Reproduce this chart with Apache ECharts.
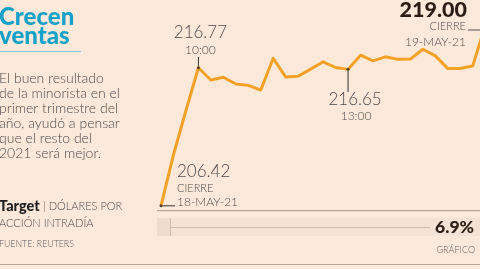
<!DOCTYPE html>
<html><head><meta charset="utf-8">
<script src="https://cdn.jsdelivr.net/npm/echarts@6/dist/echarts.min.js"></script>
<style>html,body{margin:0;padding:0;background:#fde9da;overflow:hidden}#c{width:480px;height:269px;}</style>
</head><body><div id="c"></div>
<script>
// Data
const times = ['18-MAY-21','9:30','9:45','10:00','10:15','10:30','10:45','11:00','11:15','11:30','11:45','12:00','12:15','12:30','12:45','13:00','13:15','13:30','13:45','14:00','14:15','14:30','14:45','15:00','15:15','15:30','15:45','16:00'];
const prices = [206.42,210.25,213.56,216.77,215.85,216.06,215.55,215.45,215.10,217.48,216.07,216.13,216.67,217.22,216.79,216.65,217.71,217.29,217.59,217.40,217.42,218.16,217.66,216.71,216.71,216.91,219.95,219.00];
const highlightIdx = [0, 3, 15];
const titleLines = ['Crecen', 'ventas'];
const bodyLines = ['El buen resultado', 'de la minorista en el', 'primer trimestre del', 'año, ayudó a pensar', 'que el resto del', '2021 será mejor.'];
const changeText = '6.9%';

const chart = echarts.init(document.getElementById('c'), null, {renderer: 'canvas'});
const FF = 'Lato, "Open Sans", sans-serif';
const gray = '#4a4a4a';
const dark = '#2b1d14';

function txt(text, x, y, font, fill, align, extra) {
  return Object.assign({type: 'text', silent: true, style: {text: text, x: x, y: y, font: font, fill: fill,
    align: align || 'left', textAlign: align || 'left', verticalAlign: 'middle', textVerticalAlign: 'middle'}}, extra || {});
}
function line(x1, y1, x2, y2, color, w) {
  return {type: 'line', silent: true, shape: {x1: x1, y1: y1, x2: x2, y2: y2}, style: {stroke: color, lineWidth: w || 1}};
}

const option = {
  backgroundColor: '#fde9da',
  animation: false,
  grid: {left: 161, top: 24.7, right: 0, height: 186.7},
  // visible window shows steps 0 .. ~25.6; the last steps run past the right edge
  xAxis: {type: 'value', min: 0, max: 25.58, show: false},
  yAxis: {type: 'value', min: 206, max: 220, show: false},
  series: [
    {type: 'line', data: prices.map((v, i) => [i, v]), symbol: 'none', clip: false,
     lineStyle: {color: '#f5a126', width: 3, join: 'round'}, z: 3},
    {type: 'scatter', data: highlightIdx.map(i => [i, prices[i]]), symbolSize: 3, clip: false,
     itemStyle: {color: '#2a2a2a'}, z: 5}
  ]
};
chart.setOption(option);

const p0 = chart.convertToPixel({gridIndex: 0}, [0, prices[0]]);
const p3 = chart.convertToPixel({gridIndex: 0}, [3, prices[3]]);
const p15 = chart.convertToPixel({gridIndex: 0}, [15, prices[15]]);

const g = [];
// title
g.push(txt(titleLines[0], -1, 17.5, '900 24px ' + FF, '#16a1c9'));
g.push(txt(titleLines[1], -1, 36, '900 24px ' + FF, '#16a1c9'));
g.push(line(0, 51.5, 81, 51.5, '#7ccbe0', 1));
bodyLines.forEach((t, i) => g.push(txt(t, -1, 78 + i * 15, '300 14px ' + FF, gray)));
g.push({type: 'text', silent: true, style: {text: '{b|Target} {g|| DÓLARES POR}', x: -1, y: 206.5,
  verticalAlign: 'middle', textVerticalAlign: 'middle',
  rich: {b: {font: '900 14.5px ' + FF, fill: '#1e1e1e', color: '#1e1e1e'}, g: {font: '300 11px ' + FF, fill: gray, color: gray}}}});
g.push(txt('ACCIÓN INTRADÍA', -1, 223, '300 11px ' + FF, gray));
g.push(txt('FUENTE: REUTERS', -1, 244, '300 8.8px ' + FF, '#5a5a5a'));
g.push(line(0, 264.5, 480, 264.5, '#b9a696', 1));

// chart decorations
g.push(line(157, 210.7, 480, 210.7, '#a89585', 1));
g.push({type: 'rect', silent: true, shape: {x: 157, y: 218, width: 323, height: 18}, style: {fill: '#f4e2d4'}});
g.push({type: 'rect', silent: true, shape: {x: 157, y: 218, width: 13, height: 18}, style: {fill: '#efdccd'}});
g.push(line(170.5, 218, 170.5, 236, '#cdbbab', 1));
g.push(line(170, 227.5, 430, 227.5, '#cdbbab', 1));
g.push(txt(changeText, 474, 227, '900 17.5px ' + FF, dark, 'right'));
g.push(txt('GRÁFICO', 475, 250, '300 9px ' + FF, '#5a5a5a', 'right'));

// annotations
g.push(line(p3[0], p3[1], p3[0], 57, '#333', 1));
g.push(txt(prices[3].toFixed(2), p3[0] + 2, 33, '300 17px ' + FF, gray, 'center'));
g.push(txt(times[3], p3[0] + 2, 50, '300 12px ' + FF, gray, 'center'));

g.push(line(p15[0], p15[1], p15[0], 92, '#333', 1));
g.push(txt(prices[15].toFixed(2), p15[0] + 7, 100, '300 17px ' + FF, gray, 'center'));
g.push(txt(times[15], p15[0] + 8, 116.5, '300 12px ' + FF, gray, 'center'));

g.push(line(p0[0], p0[1], p0[0] + 14, p0[1], '#333', 1));
g.push(txt(prices[0].toFixed(2), 177, 171.5, '300 17px ' + FF, gray));
g.push(txt('CIERRE', 177, 188, '300 11px ' + FF, gray));
g.push(txt(times[0], 177, 202, '300 12px ' + FF, gray));

g.push(txt(prices[prices.length - 1].toFixed(2), 467, 10, '900 21.5px ' + FF, dark, 'right'));
g.push(txt('CIERRE', 466, 26.5, '300 11px ' + FF, gray, 'right'));
g.push(txt('19-MAY-21', 466, 42.5, '300 12px ' + FF, gray, 'right'));
g.push(line(468, 30, 480, 30, '#555', 1));

chart.setOption({graphic: {elements: g}});
</script>
</body></html>
